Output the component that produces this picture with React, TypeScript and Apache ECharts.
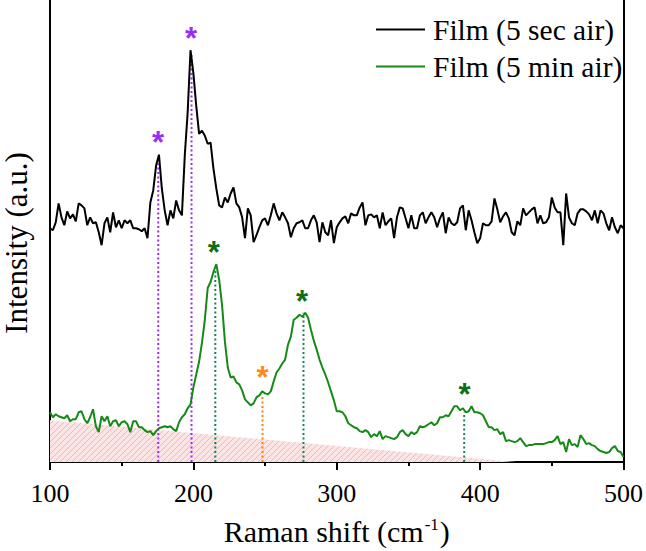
import React, { useEffect, useRef } from "react";
import * as echarts from "echarts";

// Raman shift sampling (cm^-1)
const X_START = 100;
const X_STEP = 2;

// Intensities (a.u.), one value per 2 cm^-1 from 100 to 500
const FILM_5SEC = [
  235, 233, 241, 260, 246, 238, 252, 245, 249, 242,
  260, 258, 255, 238, 246, 240, 241, 231, 218, 240,
  246, 231, 251, 236, 243, 235, 243, 240, 243, 235,
  235, 234, 232, 235, 225, 261, 273, 298, 309, 275,
  253, 238, 253, 245, 263, 253, 248, 308, 351, 414,
  391, 358, 330, 333, 328, 320, 321, 295, 275, 258,
  256, 266, 261, 270, 276, 260, 256, 246, 225, 255,
  248, 221, 228, 236, 243, 245, 238, 248, 260, 250,
  243, 251, 246, 240, 226, 235, 240, 241, 243, 235,
  235, 243, 248, 241, 221, 241, 231, 228, 243, 220,
  236, 241, 245, 247, 240, 250, 248, 248, 256, 261,
  238, 248, 249, 246, 248, 235, 251, 238, 242, 245,
  225, 246, 256, 255, 245, 235, 248, 235, 235, 248,
  251, 240, 246, 251, 246, 236, 245, 251, 230, 246,
  240, 238, 241, 255, 258, 233, 253, 243, 231, 220,
  225, 240, 238, 238, 242, 265, 254, 241, 247, 251,
  245, 231, 228, 242, 238, 255, 248, 251, 254, 256,
  240, 248, 240, 241, 246, 266, 256, 251, 251, 218,
  270, 246, 240, 238, 250, 254, 254, 252, 249, 243,
  253, 240, 253, 250, 240, 233, 246, 236, 230, 238,
  235,
];

const FILM_5MIN = [
  50, 45, 48, 46, 45, 44, 47, 41, 43, 43,
  50, 51, 43, 39, 45, 53, 36, 30, 46, 41,
  46, 36, 41, 42, 36, 40, 41, 38, 30, 41,
  41, 35, 35, 32, 30, 31, 27, 31, 34, 35,
  36, 35, 36, 33, 31, 40, 45, 48, 54, 58,
  75, 88, 101, 120, 143, 175, 181, 191, 199, 183,
  158, 121, 95, 85, 86, 80, 78, 72, 63, 60,
  57, 59, 65, 67, 71, 69, 68, 71, 81, 90,
  94, 99, 103, 118, 126, 143, 145, 148, 146, 150,
  145, 133, 122, 113, 103, 95, 88, 80, 71, 62,
  51, 51, 50, 46, 39, 37, 35, 34, 31, 30,
  32, 30, 25, 28, 26, 31, 23, 26, 25, 24,
  23, 25, 30, 32, 28, 26, 30, 28, 30, 36,
  35, 36, 38, 40, 37, 39, 45, 45, 47, 46,
  51, 56, 56, 52, 54, 50, 51, 56, 50, 50,
  49, 47, 41, 35, 35, 32, 33, 28, 30, 21,
  22, 21, 20, 21, 24, 20, 16, 17, 17, 18,
  18, 18, 18, 19, 20, 20, 22, 26, 18, 20,
  10, 23, 17, 18, 15, 27, 23, 18, 19, 17,
  16, 13, 11, 10, 9, 10, 14, 16, 11, 10,
  5,
];

// Shaded background (substrate) wedge
const BG_X = [100, 425];
const BG_Y = [42, 0];

// Dotted peak markers
const MARK_X = [175.5, 198.7, 215.3, 248.2, 276.8, 388.9];
const MARK_TOP = [300, 410, 192, 68, 150, 50];
const MARK_COLOR = ["#9a2df5", "#9a2df5", "#1b7f55", "#ff7f0e", "#1b7f55", "#1b7f55"];

// Asterisk annotations
const STAR_X = [175.4, 198.3, 214.3, 248.2, 275.8, 389.1];
const STAR_Y = [325, 430, 215, 89, 165, 72];
const STAR_COLOR = ["#9a2df5", "#9a2df5", "#0f6e14", "#ff8a1c", "#0f6e14", "#0f6e14"];

const SERIES_NAMES = ["Film (5 sec air)", "Film (5 min air)"];
const X_TICKS = { min: 100, max: 500, interval: 100 };

const SERIF = "Liberation Serif";

function toPairs(values: number[]) {
  return values.map((v, i) => [X_START + i * X_STEP, v]);
}

function makeHatch() {
  const c = document.createElement("canvas");
  c.width = 6;
  c.height = 6;
  const g = c.getContext("2d");
  if (g) {
    g.fillStyle = "#fde4e4";
    g.fillRect(0, 0, 6, 6);
    g.strokeStyle = "#f7b6b6";
    g.lineWidth = 1;
    g.beginPath();
    g.moveTo(0, 6);
    g.lineTo(6, 0);
    g.moveTo(-1, 1);
    g.lineTo(1, -1);
    g.moveTo(5, 7);
    g.lineTo(7, 5);
    g.stroke();
  }
  return c;
}

export default function App() {
  const ref = useRef<HTMLDivElement>(null);

  useEffect(() => {
    if (!ref.current) return;
    const chart = echarts.init(ref.current, null, { renderer: "svg" });

    const markerSeries = MARK_X.map((x, i) => ({
      type: "line",
      data: [
        [x, 0],
        [x, MARK_TOP[i]],
      ],
      symbol: "none",
      silent: true,
      z: 2,
      lineStyle: { color: MARK_COLOR[i], width: 2, type: [2, 2.5] },
    }));

    const option: any = {
      animation: false,
      grid: { left: 50, right: 20.5, top: 0, bottom: 86.5 },
      legend: {
        data: SERIES_NAMES,
        orient: "vertical",
        left: 371,
        top: 9,
        icon: "rect",
        itemWidth: 49,
        itemHeight: 2,
        itemGap: 6,
        textStyle: {
          fontSize: 29.5,
          fontFamily: SERIF,
          color: "#000",
          lineHeight: 31,
          padding: [0, 0, 0, 3],
        },
      },
      xAxis: {
        type: "value",
        min: X_TICKS.min,
        max: X_TICKS.max,
        interval: X_TICKS.interval,
        axisLine: { lineStyle: { color: "#000", width: 2 } },
        axisTick: { length: 8, lineStyle: { color: "#000", width: 2 } },
        minorTick: { show: true, splitNumber: 2, length: 4, lineStyle: { color: "#000", width: 2 } },
        splitLine: { show: false },
        axisLabel: { fontSize: 26, fontFamily: SERIF, color: "#000", margin: 18 },
        name: "Raman shift (cm{sup|-1})",
        nameLocation: "middle",
        nameGap: 54,
        nameTextStyle: {
          fontSize: 30,
          fontFamily: SERIF,
          color: "#000",
          rich: {
            sup: { fontSize: 17, fontFamily: SERIF, color: "#000", verticalAlign: "top", padding: [0, 1, 0, 1] },
          },
        },
      },
      yAxis: [
        {
          type: "value",
          min: 0,
          max: 464.5,
          axisLine: { show: true, lineStyle: { color: "#000", width: 2 } },
          axisTick: { show: false },
          axisLabel: { show: false },
          splitLine: { show: false },
        },
        {
          type: "value",
          position: "right",
          min: 0,
          max: 464.5,
          axisLine: { show: true, lineStyle: { color: "#000", width: 2 } },
          axisTick: { show: false },
          axisLabel: { show: false },
          splitLine: { show: false },
        },
      ],
      graphic: [
        {
          type: "text",
          x: 16,
          y: 243,
          rotation: Math.PI / 2,
          style: {
            text: "Intensity (a.u.)",
            fontSize: 31,
            fontFamily: SERIF,
            fill: "#000",
            align: "center",
            verticalAlign: "middle",
          },
        },
      ],
      series: [
        {
          type: "line",
          data: BG_X.map((x, i) => [x, BG_Y[i]]),
          symbol: "none",
          silent: true,
          z: 1,
          lineStyle: { width: 0 },
          areaStyle: { color: { image: makeHatch(), repeat: "repeat" }, opacity: 1 },
        },
        ...markerSeries,
        {
          name: SERIES_NAMES[0],
          type: "line",
          data: toPairs(FILM_5SEC),
          symbol: "none",
          z: 3,
          color: "#000",
          lineStyle: { color: "#000", width: 2 },
        },
        {
          name: SERIES_NAMES[1],
          type: "line",
          data: toPairs(FILM_5MIN),
          symbol: "none",
          z: 3,
          color: "#168a16",
          lineStyle: { color: "#168a16", width: 2 },
        },
        {
          type: "scatter",
          silent: true,
          z: 4,
          symbolSize: 1,
          itemStyle: { color: "rgba(0,0,0,0)", opacity: 1 },
          data: STAR_X.map((x, i) => ({
            value: [x, STAR_Y[i]],
            label: { color: STAR_COLOR[i] },
          })),
          label: {
            show: true,
            position: "inside",
            formatter: "*",
            fontSize: 31,
            fontWeight: "bold",
            fontFamily: "Liberation Sans",
            opacity: 1,
            offset: [0, 4],
          },
        },
      ],
    };

    chart.setOption(option);
    return () => chart.dispose();
  }, []);

  return (
    <div
      ref={ref}
      style={{ position: "absolute", left: 0, top: 0, width: 646, height: 551 }}
    />
  );
}
